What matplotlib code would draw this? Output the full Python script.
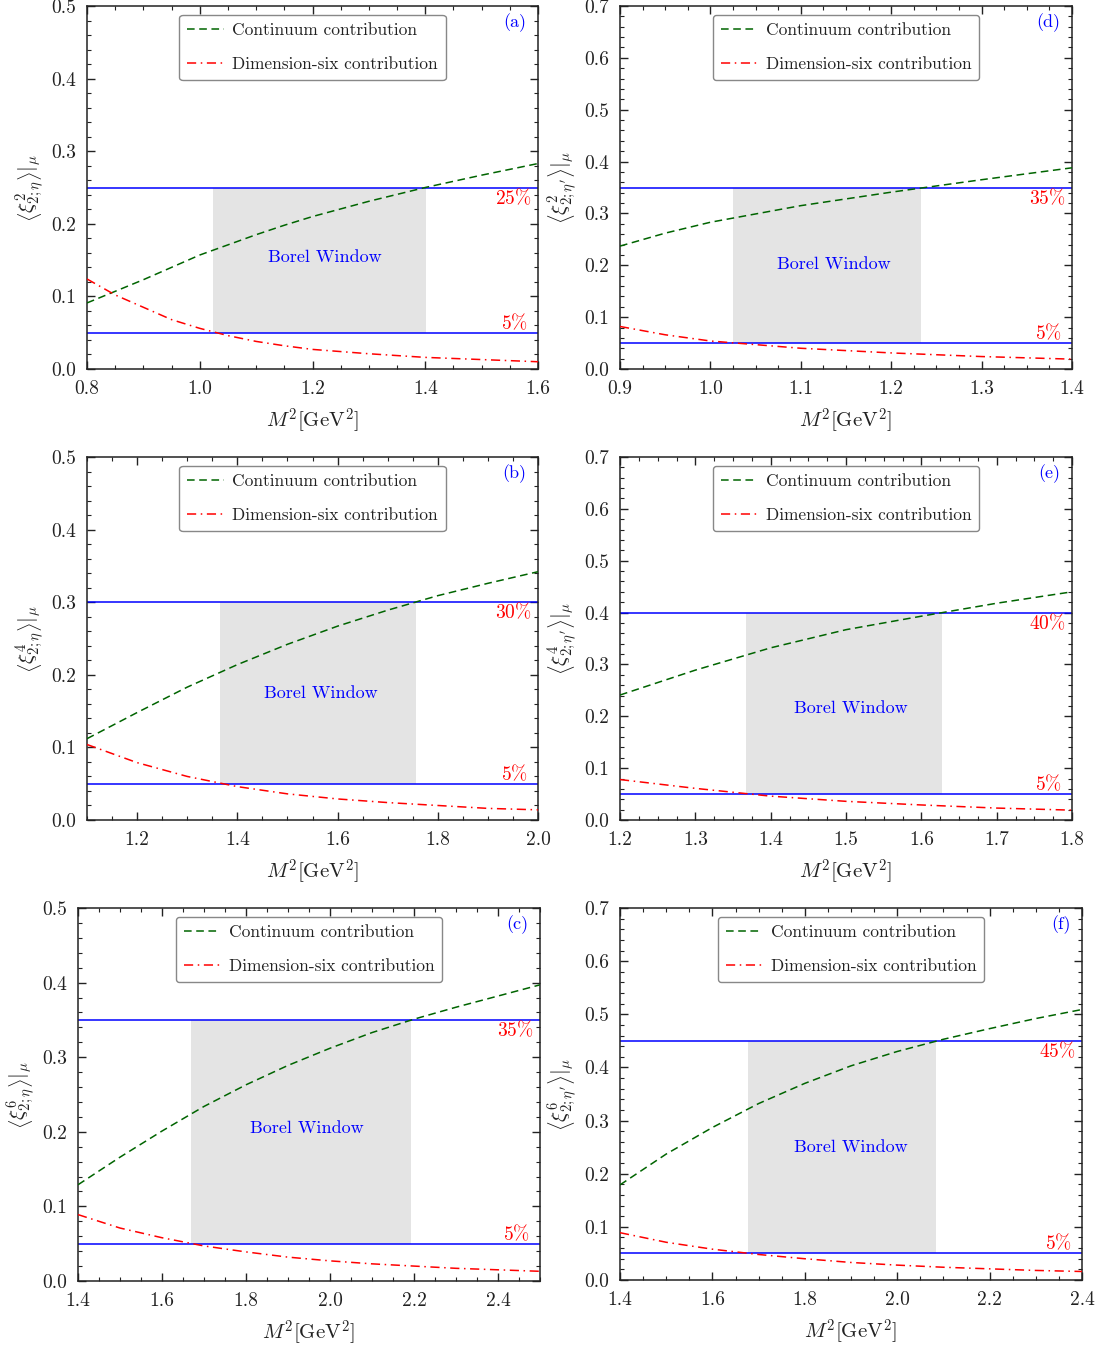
import matplotlib
matplotlib.use('Agg')
from matplotlib import pyplot as plt
from matplotlib.ticker import MultipleLocator, FormatStrFormatter

plt.rcParams['font.family'] = 'serif'
plt.rcParams['font.serif'] = ['cmr10']
plt.rcParams['mathtext.fontset'] = 'cm'
plt.rcParams['axes.formatter.use_mathtext'] = True
plt.rcParams['axes.unicode_minus'] = False

# ---- data ----
# (a) <xi^2_{2;eta}>
a_x = [0.8, 0.85, 0.9, 0.95, 1.0, 1.05, 1.1, 1.15, 1.2, 1.3, 1.4, 1.5, 1.6]
a_cont = [0.091, 0.107, 0.123, 0.140, 0.157, 0.171, 0.185, 0.198, 0.210, 0.231, 0.250, 0.267, 0.283]
a_dim6 = [0.124, 0.102, 0.085, 0.068, 0.056, 0.046, 0.038, 0.032, 0.027, 0.021, 0.016, 0.013, 0.010]
a_window = [1.023, 1.401]
a_limits = [0.05, 0.25]

# (b) <xi^4_{2;eta}>
b_x = [1.1, 1.2, 1.3, 1.4, 1.5, 1.6, 1.7, 1.8, 1.9, 2.0]
b_cont = [0.112, 0.148, 0.183, 0.214, 0.242, 0.267, 0.289, 0.309, 0.326, 0.342]
b_dim6 = [0.104, 0.079, 0.060, 0.046, 0.036, 0.029, 0.024, 0.020, 0.016, 0.014]
b_window = [1.365, 1.757]
b_limits = [0.05, 0.30]

# (c) <xi^6_{2;eta}>
c_x = [1.4, 1.5, 1.6, 1.7, 1.8, 1.9, 2.0, 2.1, 2.2, 2.3, 2.4, 2.5]
c_cont = [0.129, 0.166, 0.201, 0.234, 0.263, 0.289, 0.312, 0.333, 0.351, 0.367, 0.382, 0.397]
c_dim6 = [0.089, 0.071, 0.058, 0.047, 0.039, 0.032, 0.027, 0.023, 0.020, 0.017, 0.015, 0.013]
c_window = [1.669, 2.193]
c_limits = [0.05, 0.35]

# (d) <xi^2_{2;eta'}>
d_x = [0.9, 0.95, 1.0, 1.1, 1.2, 1.3, 1.4]
d_cont = [0.237, 0.262, 0.283, 0.315, 0.341, 0.365, 0.388]
d_dim6 = [0.082, 0.066, 0.054, 0.040, 0.031, 0.024, 0.019]
d_window = [1.025, 1.233]
d_limits = [0.05, 0.35]

# (e) <xi^4_{2;eta'}>
e_x = [1.2, 1.3, 1.4, 1.5, 1.6, 1.7, 1.8]
e_cont = [0.241, 0.289, 0.332, 0.367, 0.393, 0.418, 0.440]
e_dim6 = [0.078, 0.061, 0.046, 0.036, 0.029, 0.023, 0.019]
e_window = [1.367, 1.627]
e_limits = [0.05, 0.40]

# (f) <xi^6_{2;eta'}>
f_x = [1.4, 1.5, 1.6, 1.7, 1.8, 1.9, 2.0, 2.1, 2.2, 2.3, 2.4]
f_cont = [0.179, 0.237, 0.287, 0.332, 0.370, 0.403, 0.430, 0.453, 0.473, 0.492, 0.509]
f_dim6 = [0.089, 0.071, 0.058, 0.048, 0.040, 0.033, 0.028, 0.024, 0.021, 0.018, 0.016]
f_window = [1.677, 2.084]
f_limits = [0.05, 0.45]

W, H = 1105, 1354
fig = plt.figure(figsize=(W / 100, H / 100), dpi=100)


def panel(box, x, cont, dim6, window, limits, xlim, ylim, xmaj, ylab, tag, text_xy):
    l, t, r, b = box
    ax = fig.add_axes([l / W, 1 - b / H, (r - l) / W, (b - t) / H])
    ax.fill_between(window, limits[0], limits[1], color='#e4e4e4', lw=0, zorder=1)
    for yv in limits:
        ax.axhline(yv, color='blue', lw=1.1, zorder=2)
    ax.plot(x, cont, color='darkgreen', ls=(0, (5, 3)), lw=1.1, zorder=3,
            label='Continuum contribution')
    ax.plot(x, dim6, color='red', ls=(0, (6, 3, 1, 3)), lw=1.1, zorder=3,
            label='Dimension-six contribution')
    ax.set_xlim(xlim)
    ax.set_ylim(ylim)
    ax.xaxis.set_major_locator(MultipleLocator(xmaj))
    ax.xaxis.set_minor_locator(MultipleLocator(xmaj / 4))
    ax.yaxis.set_major_locator(MultipleLocator(0.1))
    ax.yaxis.set_minor_locator(MultipleLocator(0.02))
    ax.xaxis.set_major_formatter(FormatStrFormatter('%.1f'))
    ax.yaxis.set_major_formatter(FormatStrFormatter('%.1f'))
    ax.tick_params(which='both', direction='in', top=True, right=True,
                   labelsize=14, color='#222222', labelcolor='#222222')
    ax.tick_params(which='major', length=6, width=1, pad=8)
    ax.tick_params(which='minor', length=3, width=0.8)
    for s in ax.spines.values():
        s.set_linewidth(1.1)
        s.set_color('#222222')
    ax.set_xlabel(r'$M^2[{\rm GeV}^2]$', fontsize=15, color='#222222', labelpad=6)
    ax.set_ylabel(ylab, fontsize=15, color='#222222')
    # label's right edge ~40 px left of the axes
    ax.yaxis.set_label_coords(-40 / (r - l), 0.5)
    leg = ax.legend(loc='upper center', fontsize=12.5, frameon=True, fancybox=True,
                    edgecolor='#888888', framealpha=1, labelspacing=1.1,
                    handlelength=2.1, handletextpad=0.5, borderpad=0.45,
                    borderaxespad=0.5)
    leg.get_frame().set_linewidth(1.0)
    for txt in leg.get_texts():
        txt.set_color('#222222')
    ax.text(0.975, 0.98, tag, transform=ax.transAxes, ha='right', va='top',
            color='blue', fontsize=13)
    ax.text(text_xy[0], text_xy[1], 'Borel Window', ha='center', va='center',
            color='blue', fontsize=13)
    ax.annotate(r'$%d\%%$' % round(limits[1] * 100), xy=(1, limits[1]),
                xycoords=('axes fraction', 'data'), xytext=(-6, -10),
                textcoords='offset pixels', ha='right', va='center', color='red', fontsize=14)
    ax.annotate(r'$%d\%%$' % round(limits[0] * 100), xy=(1, limits[0]),
                xycoords=('axes fraction', 'data'), xytext=(-10, 10),
                textcoords='offset pixels', ha='right', va='center', color='red', fontsize=14)
    return ax


panel((87, 6, 538, 369), a_x, a_cont, a_dim6, a_window, a_limits, (0.8, 1.6), (0, 0.5), 0.2,
      r'$\left\langle\xi^2_{2;\eta}\right\rangle|_\mu$', '(a)', (1.222, 0.154))
panel((87, 457, 538, 820), b_x, b_cont, b_dim6, b_window, b_limits, (1.1, 2.0), (0, 0.5), 0.2,
      r'$\left\langle\xi^4_{2;\eta}\right\rangle|_\mu$', '(b)', (1.566, 0.175))
panel((78, 908, 540, 1281), c_x, c_cont, c_dim6, c_window, c_limits, (1.4, 2.5), (0, 0.5), 0.2,
      r'$\left\langle\xi^6_{2;\eta}\right\rangle|_\mu$', '(c)', (1.945, 0.204))
panel((620, 6, 1072, 369), d_x, d_cont, d_dim6, d_window, d_limits, (0.9, 1.4), (0, 0.7), 0.1,
      r"$\left\langle\xi^2_{2;\eta'}\right\rangle|_\mu$", '(d)', (1.136, 0.2025))
panel((620, 457, 1072, 820), e_x, e_cont, e_dim6, e_window, e_limits, (1.2, 1.8), (0, 0.7), 0.1,
      r"$\left\langle\xi^4_{2;\eta'}\right\rangle|_\mu$", '(e)', (1.507, 0.216))
panel((620, 908, 1082, 1280), f_x, f_cont, f_dim6, f_window, f_limits, (1.4, 2.4), (0, 0.7), 0.2,
      r"$\left\langle\xi^6_{2;\eta'}\right\rangle|_\mu$", '(f)', (1.9, 0.25))

fig.savefig('out.png', dpi=100)
